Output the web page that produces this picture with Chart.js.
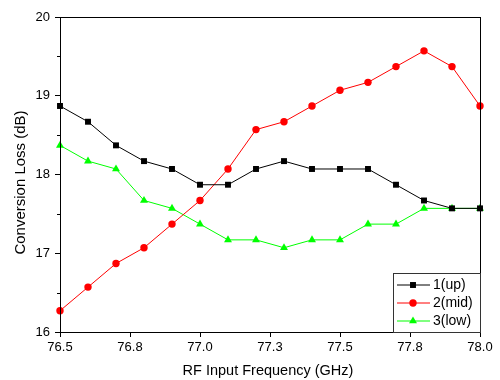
<!DOCTYPE html>
<html>
<head>
<meta charset="utf-8">
<script src="https://cdn.jsdelivr.net/npm/chart.js@4.4.0/dist/chart.umd.min.js"></script>
<style>
  html, body { margin: 0; padding: 0; background: #fff; }
  #wrap { width: 500px; height: 380px; position: relative; }
</style>
</head>
<body>
<div id="wrap"><canvas id="c" width="500" height="380"></canvas></div>
<script>
// frequency points (GHz)
const freqs = [76.5, 76.6, 76.7, 76.8, 76.9, 77.0, 77.1, 77.2, 77.3, 77.4, 77.5, 77.6, 77.7, 77.8, 77.9, 78.0];

// conversion loss per channel (dB)
const upLoss  = [18.87, 18.67, 18.37, 18.17, 18.07, 17.87, 17.87, 18.07, 18.17, 18.07, 18.07, 18.07, 17.87, 17.67, 17.57, 17.57];
const midLoss = [16.27, 16.57, 16.87, 17.07, 17.37, 17.67, 18.07, 18.57, 18.67, 18.87, 19.07, 19.17, 19.37, 19.57, 19.37, 18.87];
const lowLoss = [18.37, 18.17, 18.07, 17.67, 17.57, 17.37, 17.17, 17.17, 17.07, 17.17, 17.17, 17.37, 17.37, 17.57, 17.57, 17.57];

const seriesNames = ['1(up)', '2(mid)', '3(low)'];
const xTicks = [76.5, 76.75, 77.0, 77.25, 77.5, 77.75, 78.0];
const yMinorTicks = [16.5, 17.5, 18.5, 19.5];
const xTitle = 'RF Input Frequency (GHz)';
const yTitle = 'Conversion Loss (dB)';

const FONT = 'Liberation Sans, Arial, sans-serif';

function toPoints(ys) {
  return freqs.map((f, i) => ({ x: f, y: ys[i] }));
}

// frame around the plot, minor y ticks, axis titles
const framePlugin = {
  id: 'frame',
  afterDraw(chart) {
    const { ctx, chartArea: a } = chart;
    const y = chart.scales.y;
    ctx.save();
    ctx.strokeStyle = '#000';
    ctx.lineWidth = 1;
    ctx.strokeRect(Math.round(a.left) + 0.5, Math.round(a.top) + 0.5,
      Math.round(a.right - a.left), Math.round(a.bottom - a.top));
    ctx.beginPath();
    yMinorTicks.forEach(v => {
      const py = Math.round(y.getPixelForValue(v)) + 0.5;
      ctx.moveTo(a.left - 3, py);
      ctx.lineTo(a.left, py);
    });
    ctx.stroke();

    ctx.fillStyle = '#000';
    ctx.font = '14.5px ' + FONT;
    ctx.textAlign = 'center';
    ctx.textBaseline = 'middle';
    ctx.fillText(xTitle, (a.left + a.right) / 2 - 2, 371);
    ctx.translate(21, (a.top + a.bottom) / 2 + 8);
    ctx.rotate(-Math.PI / 2);
    ctx.font = '15px ' + FONT;
    ctx.fillText(yTitle, 0, 0);
    ctx.restore();
  }
};

// legend box in the lower right corner of the plot
const boxLegend = {
  id: 'boxLegend',
  afterDraw(chart) {
    const { ctx, chartArea: a } = chart;
    const w = 87, h = 59, rowH = 18;
    const x0 = a.right - w, y0 = a.bottom - h;
    ctx.save();
    ctx.fillStyle = '#fff';
    ctx.fillRect(x0, y0, w, h);
    ctx.strokeStyle = '#333';
    ctx.lineWidth = 1;
    ctx.strokeRect(Math.round(x0) + 0.5, Math.round(y0) + 0.5, w, h);
    chart.data.datasets.forEach((ds, i) => {
      const cy = y0 + 12 + i * rowH;
      ctx.strokeStyle = ds.borderColor;
      ctx.beginPath();
      ctx.moveTo(x0 + 4, cy);
      ctx.lineTo(x0 + 37, cy);
      ctx.stroke();
      ctx.fillStyle = ds.pointBackgroundColor;
      Chart.helpers.drawPoint(ctx, {
        pointStyle: ds.pointStyle, radius: ds.pointRadius, rotation: 0, borderWidth: 0
      }, x0 + 20, cy);
      ctx.fillStyle = '#000';
      ctx.font = '14px ' + FONT;
      ctx.textBaseline = 'middle';
      ctx.fillText(seriesNames[i], x0 + 40, cy + 0.5);
    });
    ctx.restore();
  }
};

function lineSet(label, ys, color, style, r) {
  return {
    label: label,
    data: toPoints(ys),
    borderColor: color,
    backgroundColor: color,
    pointBackgroundColor: color,
    pointBorderColor: color,
    pointBorderWidth: 0,
    borderWidth: 1,
    pointStyle: style,
    pointRadius: r,
    tension: 0
  };
}

new Chart(document.getElementById('c'), {
  type: 'line',
  data: {
    datasets: [
      lineSet(seriesNames[0], upLoss, '#000000', 'rect', 4.2),
      lineSet(seriesNames[1], midLoss, '#ff0000', 'circle', 3.7),
      lineSet(seriesNames[2], lowLoss, '#00ff00', 'triangle', 4.6)
    ]
  },
  options: {
    responsive: false,
    animation: false,
    clip: false,
    layout: { padding: { top: 17, right: 20, left: 0, bottom: 0 } },
    plugins: { legend: { display: false }, tooltip: { enabled: false } },
    scales: {
      x: {
        type: 'linear',
        min: 76.5,
        max: 78.0,
        afterBuildTicks(scale) { scale.ticks = xTicks.map(v => ({ value: v })); },
        afterFit(scale) { scale.height = 48; },
        border: { color: '#000', width: 1 },
        grid: { drawOnChartArea: false, tickLength: 5, color: '#000' },
        ticks: {
          color: '#000',
          padding: 3,
          maxRotation: 0,
          font: { family: FONT, size: 13 },
          callback: v => v.toFixed(1)
        }
      },
      y: {
        min: 16,
        max: 20,
        afterFit(scale) { scale.width = 60; },
        border: { color: '#000', width: 1 },
        grid: { drawOnChartArea: false, tickLength: 5, color: '#000' },
        ticks: {
          stepSize: 1,
          color: '#000',
          padding: 5,
          font: { family: FONT, size: 13 }
        }
      }
    }
  },
  plugins: [framePlugin, boxLegend]
});
</script>
</body>
</html>
